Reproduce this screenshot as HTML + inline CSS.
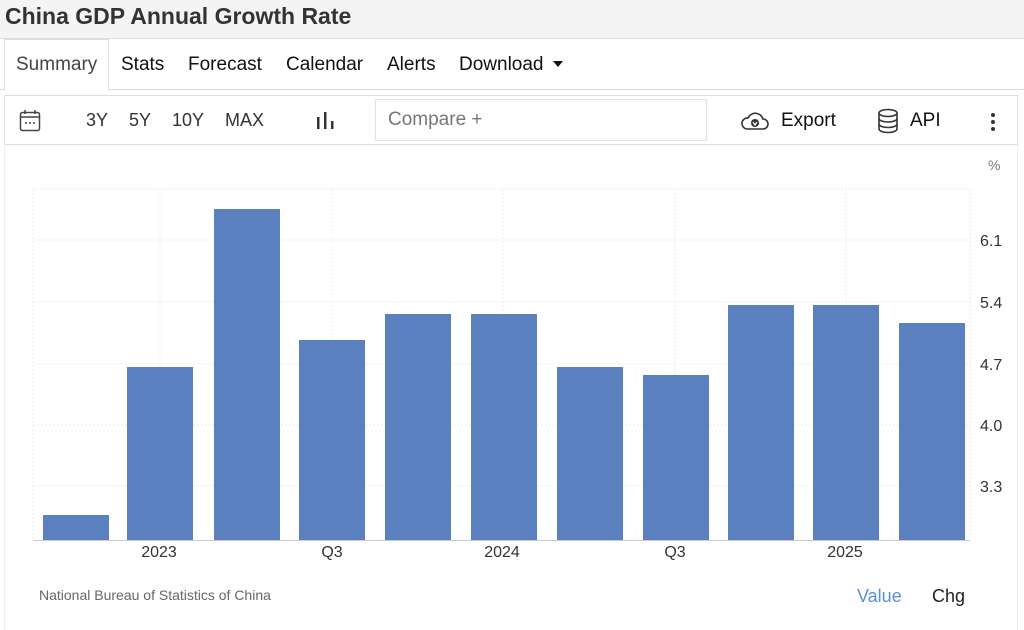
<!DOCTYPE html>
<html><head><style>
body{margin:0;width:1024px;height:630px;background:#fff;font-family:"Liberation Sans",Arial,sans-serif;position:relative;overflow:hidden}
.a{position:absolute;white-space:nowrap}
</style></head><body>
<div class="a" style="left:0;top:0;width:1024px;height:38px;background:#f4f4f4;border-bottom:1px solid #ddd"></div>
<div class="a" style="left:5px;top:3px;font-size:23px;font-weight:bold;color:#333">China GDP Annual Growth Rate</div>
<div class="a" style="left:0;top:89px;width:1024px;border-top:1px solid #ddd"></div>
<div class="a" style="left:4px;top:39px;width:103px;height:51px;background:#fff;border:1px solid #ddd;border-bottom:none"></div>
<div class="a" style="left:16px;top:54px;font-size:19px;color:#444">Summary</div>
<div class="a" style="left:121px;top:54px;font-size:19px;color:#111">Stats</div>
<div class="a" style="left:188px;top:54px;font-size:19px;color:#111">Forecast</div>
<div class="a" style="left:286px;top:54px;font-size:19px;color:#111">Calendar</div>
<div class="a" style="left:387px;top:54px;font-size:19px;color:#111">Alerts</div>
<div class="a" style="left:459px;top:54px;font-size:19px;color:#111">Download</div>
<div class="a" style="left:553px;top:61px;width:0;height:0;border-left:5px solid transparent;border-right:5px solid transparent;border-top:6px solid #111"></div>
<div class="a" style="left:4px;top:95px;width:1012px;height:48px;border:1px solid #ddd"></div>
<div class="a" style="left:4px;top:144px;width:1012px;height:486px;border-left:1px solid #eee;border-right:1px solid #eee"></div>
<svg class="a" style="left:19px;top:109px" width="22" height="24" viewBox="0 0 22 24"><rect x="1.5" y="3.5" width="19" height="18" rx="2" fill="none" stroke="#444" stroke-width="1.5"/><line x1="1.5" y1="8" x2="20.5" y2="8" stroke="#444" stroke-width="1.5"/><line x1="6" y1="1" x2="6" y2="5" stroke="#444" stroke-width="1.5"/><line x1="16" y1="1" x2="16" y2="5" stroke="#444" stroke-width="1.5"/><circle cx="7" cy="14" r="1" fill="#444"/><circle cx="11" cy="14" r="1" fill="#444"/><circle cx="15" cy="14" r="1" fill="#444"/></svg>
<div class="a" style="left:86px;top:110px;font-size:18px;color:#333">3Y</div>
<div class="a" style="left:129px;top:110px;font-size:18px;color:#333">5Y</div>
<div class="a" style="left:172px;top:110px;font-size:18px;color:#333">10Y</div>
<div class="a" style="left:225px;top:110px;font-size:18px;color:#333">MAX</div>
<svg class="a" style="left:316px;top:111px" width="20" height="20"><rect x="1" y="6" width="2.5" height="12" fill="#333"/><rect x="8" y="1" width="2.5" height="17" fill="#333"/><rect x="15" y="10" width="2.5" height="8" fill="#333"/></svg>
<div class="a" style="left:375px;top:99px;width:330px;height:40px;border:1px solid #e4e4dc"></div>
<div class="a" style="left:388px;top:109px;font-size:19px;color:#777">Compare +</div>
<svg class="a" style="left:740px;top:110px" width="30" height="22"><path d="M7 19 H23 A5 5 0 0 0 23 9 A8 8 0 0 0 8 8 A5.5 5.5 0 0 0 7 19 Z" fill="none" stroke="#333" stroke-width="1.6"/><circle cx="15" cy="13" r="4" fill="#333"/><path d="M13 12 L15 15 L17 12" stroke="#fff" fill="none" stroke-width="1.2"/></svg>
<div class="a" style="left:781px;top:110px;font-size:19px;color:#111">Export</div>
<svg class="a" style="left:877px;top:108px" width="22" height="26"><g fill="none" stroke="#333" stroke-width="1.6"><ellipse cx="11" cy="5" rx="9" ry="3.5"/><path d="M2 5 V21 A9 3.5 0 0 0 20 21 V5"/><path d="M2 10.5 A9 3.5 0 0 0 20 10.5"/><path d="M2 16 A9 3.5 0 0 0 20 16"/></g></svg>
<div class="a" style="left:910px;top:110px;font-size:19px;color:#111">API</div>
<svg class="a" style="left:989px;top:112px" width="8" height="20"><circle cx="4" cy="3" r="2" fill="#333"/><circle cx="4" cy="10" r="2" fill="#333"/><circle cx="4" cy="17" r="2" fill="#333"/></svg>
<div class="a" style="left:988px;top:157px;font-size:14px;color:#777">%</div>
<svg class="a" style="left:0;top:0" width="1024" height="630">
<g stroke="#ececec" stroke-dasharray="2,2" stroke-width="1">
<line x1="33" y1="189" x2="970" y2="189"/><line x1="33" y1="240" x2="970" y2="240"/><line x1="33" y1="302" x2="970" y2="302"/><line x1="33" y1="364" x2="970" y2="364"/><line x1="33" y1="425" x2="970" y2="425"/><line x1="33" y1="486" x2="970" y2="486"/>
<line x1="33" y1="189" x2="33" y2="540"/><line x1="160" y1="189" x2="160" y2="540"/><line x1="332" y1="189" x2="332" y2="540"/><line x1="503" y1="189" x2="503" y2="540"/><line x1="675" y1="189" x2="675" y2="540"/><line x1="846" y1="189" x2="846" y2="540"/><line x1="970" y1="189" x2="970" y2="540"/>
</g>
<g fill="#5b80c0">
<rect x="43" y="515" width="66" height="25"/><rect x="127" y="367" width="66" height="173"/><rect x="214" y="209" width="66" height="331"/><rect x="299" y="340" width="66" height="200"/><rect x="385" y="314" width="66" height="226"/><rect x="471" y="314" width="66" height="226"/><rect x="557" y="367" width="66" height="173"/><rect x="643" y="375" width="66" height="165"/><rect x="728" y="305" width="66" height="235"/><rect x="813" y="305" width="66" height="235"/><rect x="899" y="323" width="66" height="217"/>
</g>
<line x1="33" y1="540.5" x2="970" y2="540.5" stroke="#ccc"/>
<g font-size="16" fill="#333" font-family="Liberation Sans,sans-serif">
<text x="980" y="246">6.1</text><text x="980" y="308">5.4</text><text x="980" y="370">4.7</text><text x="980" y="431">4.0</text><text x="980" y="492">3.3</text>
<g text-anchor="middle"><text x="159" y="557">2023</text><text x="332" y="557">Q3</text><text x="502" y="557">2024</text><text x="675" y="557">Q3</text><text x="845" y="557">2025</text></g>
</g>
</svg>
<div class="a" style="left:39px;top:587px;font-size:14px;color:#666">National Bureau of Statistics of China</div>
<div class="a" style="left:857px;top:586px;font-size:18px;color:#5b8fd6">Value</div>
<div class="a" style="left:932px;top:586px;font-size:18px;color:#222">Chg</div>
</body></html>
